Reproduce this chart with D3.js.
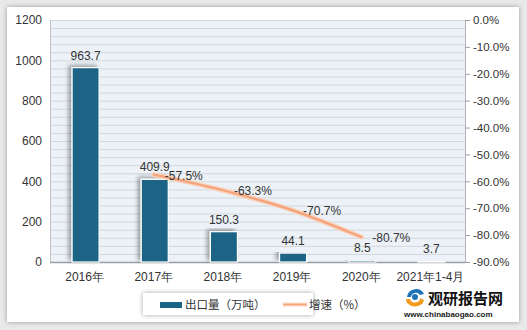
<!DOCTYPE html>
<html><head><meta charset="utf-8">
<script src="https://cdn.jsdelivr.net/npm/d3@7"></script>
<style>body{margin:0;background:#fff;}svg{display:block;font-family:"Noto Sans CJK SC","Microsoft YaHei",sans-serif;}</style>
</head><body><svg id="c" width="527" height="330"></svg>
<script>
const categories = ["2016年","2017年","2018年","2019年","2020年","2021年1-4月"];
const exportVolume = [963.7, 409.9, 150.3, 44.1, 8.5, 3.7];
const growthCats = ["2017年","2018年","2019年","2020年"];
const growthRate = [-57.5, -63.3, -70.7, -80.7];
const leftTicks = [0,200,400,600,800,1000,1200];
const rightTicks = [0,-10,-20,-30,-40,-50,-60,-70,-80,-90];

const svg = d3.select("#c");
const defs = svg.append("defs");
const f = defs.append("filter").attr("id","sh").attr("x","-20%").attr("y","-20%").attr("width","140%").attr("height","140%");
f.append("feGaussianBlur").attr("in","SourceAlpha").attr("stdDeviation",2.5);
f.append("feOffset").attr("dx",0).attr("dy",0).attr("result","b");
f.append("feComponentTransfer").append("feFuncA").attr("type","linear").attr("slope",0.35);
const m = f.append("feMerge"); m.append("feMergeNode"); m.append("feMergeNode").attr("in","SourceGraphic");
const f2 = defs.append("filter").attr("id","bsh").attr("x","-40%").attr("y","-10%").attr("width","180%").attr("height","120%");
f2.append("feGaussianBlur").attr("in","SourceAlpha").attr("stdDeviation",2);
f2.append("feOffset").attr("dx",-3).attr("dy",-2);
f2.append("feComponentTransfer").append("feFuncA").attr("type","linear").attr("slope",0.35);
const m2 = f2.append("feMerge"); m2.append("feMergeNode"); m2.append("feMergeNode").attr("in","SourceGraphic");

// outer frame
svg.append("rect").attr("x",0).attr("y",0).attr("width",527).attr("height",330).attr("fill","#e9e9e9");
svg.append("rect").attr("x",7).attr("y",7).attr("width",512).attr("height",315).attr("fill","#fff").attr("filter","url(#sh)");

const L=50, R=465, T=20, B=262;
const x = d3.scaleBand().domain(categories).range([L,R]);
const y = d3.scaleLinear().domain([0,1200]).range([B,T]);
const y2 = d3.scaleLinear().domain([-90,0]).range([B,T]);

svg.append("rect").attr("x",L).attr("y",T).attr("width",R-L).attr("height",B-T).attr("fill","#ecf2f8");
// grid
svg.append("g").selectAll("line").data(d3.range(0,1201,40)).join("line")
  .attr("x1",L).attr("x2",R).attr("y1",d=>y(d)+0.5).attr("y2",d=>y(d)+0.5)
  .attr("stroke","#d3d7db").attr("stroke-width",1);
svg.append("line").attr("x1",L+0.5).attr("x2",L+0.5).attr("y1",T).attr("y2",B).attr("stroke","#c0c4c8");
svg.append("line").attr("x1",R+0.5).attr("x2",R+0.5).attr("y1",T).attr("y2",B).attr("stroke","#b0b4b8");
svg.append("line").attr("x1",L).attr("x2",R).attr("y1",B+0.5).attr("y2",B+0.5).attr("stroke","#9a9ea2").attr("stroke-width",1.5);

// left axis
const ga = svg.append("g").attr("transform",`translate(${L-8},0)`)
  .call(d3.axisLeft(y).tickValues(leftTicks).tickSize(0).tickPadding(0).tickFormat(d3.format("d")));
ga.select(".domain").remove();
ga.selectAll("text").attr("font-size",12).attr("fill","#333").attr("font-family","Liberation Sans, Arial, sans-serif");
// right axis
const gr = svg.append("g").attr("transform",`translate(${R},0)`)
  .call(d3.axisRight(y2).tickValues(rightTicks).tickSize(5).tickPadding(3).tickFormat(d=>d.toFixed(1)+"%"));
gr.select(".domain").remove();
gr.selectAll("line").attr("stroke","#9a9ea2");
gr.selectAll("text").attr("font-size",11.5).attr("fill","#333").attr("font-family","Liberation Sans, Arial, sans-serif");
// x axis
const gx = svg.append("g").attr("transform",`translate(0,${B})`)
  .call(d3.axisBottom(x).tickSize(0).tickPadding(10));
gx.select(".domain").remove();
gx.selectAll("text").attr("font-size",12).attr("fill","#333");

// bars
const bw = 27;
svg.append("g").selectAll("rect").data(exportVolume).join("rect")
  .attr("x",(d,i)=>x(categories[i])+x.bandwidth()/2-bw/2+1)
  .attr("y",d=>y(d)).attr("width",bw).attr("height",d=>B-y(d))
  .attr("fill","#1a6485").attr("stroke","#fff").attr("stroke-width",1.2).attr("filter","url(#bsh)");
svg.append("g").selectAll("text").data(exportVolume).join("text")
  .attr("x",(d,i)=>x(categories[i])+x.bandwidth()/2+1)
  .attr("y",d=>y(d)-8).attr("text-anchor","middle")
  .attr("font-size",12).attr("fill","#333").attr("font-family","Liberation Sans, Arial, sans-serif")
  .text(d=>d.toFixed(1));

// line
const line = d3.line().x((d,i)=>x(growthCats[i])+x.bandwidth()/2).y(d=>y2(d)).curve(d3.curveMonotoneX);
svg.append("path").datum(growthRate).attr("d",line).attr("fill","none").attr("stroke","#fbd3bd").attr("stroke-width",5).attr("stroke-linecap","round");
svg.append("path").datum(growthRate).attr("d",line).attr("fill","none").attr("stroke","#f3a47d").attr("stroke-width",2.2).attr("stroke-linecap","round");
svg.append("g").selectAll("text").data(growthRate).join("text")
  .attr("x",(d,i)=>x(growthCats[i])+x.bandwidth()/2+11)
  .attr("y",d=>y2(d)+5)
  .attr("font-size",12).attr("fill","#333").attr("font-family","Liberation Sans, Arial, sans-serif")
  .text(d=>d.toFixed(1)+"%");

// legend
svg.append("rect").attr("x",143).attr("y",293).attr("width",170).attr("height",22).attr("fill","#fff").attr("filter","url(#sh)");
svg.append("rect").attr("x",160).attr("y",302).attr("width",22).attr("height",6).attr("fill","#1a6485");
svg.append("text").attr("x",185).attr("y",309).attr("font-size",11.5).attr("fill","#333").text("出口量（万吨）");
svg.append("line").attr("x1",283).attr("x2",307).attr("y1",304.5).attr("y2",304.5).attr("stroke","#fbd3bd").attr("stroke-width",4);
svg.append("line").attr("x1",283).attr("x2",307).attr("y1",304.5).attr("y2",304.5).attr("stroke","#f3a47d").attr("stroke-width",1.5);
svg.append("text").attr("x",309).attr("y",309).attr("font-size",11.5).attr("fill","#333").text("增速（%）");

// logo
const lg = svg.append("g").attr("transform","translate(415,297)");
lg.append("path").attr("d","M-8,0 A9,9 0 0 1 9,-3 L5,-2 A5,5 0 0 0 -4,0 Z").attr("fill","#1d73b8");
lg.append("path").attr("d","M-9,2 A9,7 0 0 0 9,3 L5,1 A5,4 0 0 1 -5,2 Z").attr("fill","#f29b1d");
lg.append("circle").attr("cx",0).attr("cy",0).attr("r",3).attr("fill","#1d73b8");
svg.append("text").attr("x",428).attr("y",304).attr("font-size",15).attr("font-weight","bold").attr("fill","#111").text("观研报告网");
svg.append("text").attr("x",404).attr("y",317).attr("font-size",8).attr("font-weight","bold").attr("fill","#222").attr("font-family","Liberation Sans, Arial, sans-serif").text("www.chinabaogao.com");
</script></body></html>
